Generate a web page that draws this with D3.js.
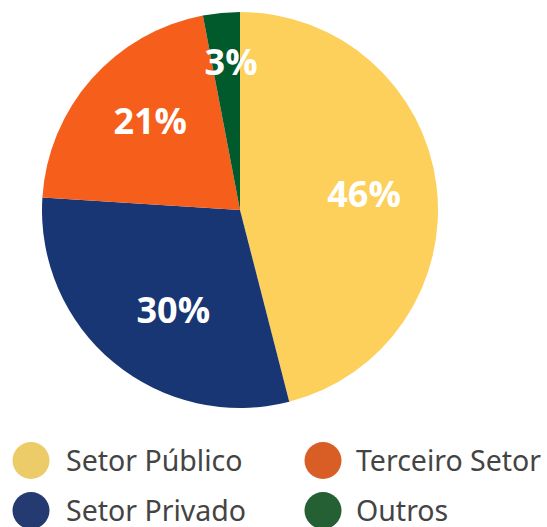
<!DOCTYPE html>
<html>
<head>
<meta charset="utf-8">
<script src="https://cdn.jsdelivr.net/npm/d3@7"></script>
<style>
  body { margin: 0; background: #fff; }
  svg { display: block; }
</style>
</head>
<body>
<svg id="chart"></svg>
<script>
// chart data
const categories = ["Setor Público", "Setor Privado", "Terceiro Setor", "Outros"];
const values = [46, 30, 21, 3];
const sliceColours = ["#FDD05B", "#183673", "#F65E1B", "#005A2B"];
const legendColours = ["#ECCC68", "#243A70", "#D95E26", "#246034"];
// legend is laid out in two columns: Público / Terceiro, Privado / Outros
const legendOrder = [0, 2, 1, 3];

const width = 547, height = 527;
const cx = 240, cy = 210, radius = 198;

// small hand tweaks so the percent labels sit where the original put them
const labelNudge = [[0, 0], [13, 4], [4, -6], [5, -1]];

const svg = d3.select("#chart")
  .attr("width", width)
  .attr("height", height);

const data = categories.map((c, i) => ({ name: c, value: values[i], colour: sliceColours[i], legend: legendColours[i], nudge: labelNudge[i] }));

const pie = d3.pie()
  .value(d => d.value)
  .sort(null);

const arc = d3.arc()
  .innerRadius(0)
  .outerRadius(radius);

const arcs = pie(data);

const g = svg.append("g")
  .attr("transform", `translate(${cx},${cy})`);

g.selectAll(".slice")
  .data(arcs)
  .join("path")
  .attr("class", "slice")
  .attr("d", arc)
  .attr("fill", d => d.data.colour);

// labels sit about 63% out; the tiny slice gets pushed out further
const labelPos = d => {
  const r = d.data.value < 5 ? 148 : 125;
  const [x, y] = d3.arc().innerRadius(r).outerRadius(r).centroid(d);
  return [x + d.data.nudge[0], y + d.data.nudge[1]];
};

g.selectAll(".label")
  .data(arcs)
  .join("text")
  .attr("class", "label")
  .attr("transform", d => `translate(${labelPos(d)})`)
  .attr("text-anchor", "middle")
  .attr("dy", "0.36em")
  .attr("font-family", "'Open Sans', sans-serif")
  .attr("font-weight", 700)
  .attr("font-size", 36)
  .attr("fill", "#fff")
  .text(d => d.data.value + "%");

// legend
const legendX = d3.scaleOrdinal().domain([0, 1]).range([31, 323]);
const legendY = d3.scaleOrdinal().domain([0, 1]).range([460.5, 510.5]);

const legend = svg.selectAll(".legend")
  .data(legendOrder.map(i => data[i]))
  .join("g")
  .attr("class", "legend")
  .attr("transform", (d, i) => `translate(${legendX(i % 2)},${legendY(Math.floor(i / 2))})`);

legend.append("circle")
  .attr("r", 18.5)
  .attr("fill", d => d.legend);

legend.append("text")
  .attr("x", (d, i) => i % 2 ? 33 : 35)
  .attr("y", 10.5)
  .attr("font-family", "'Noto Sans', sans-serif")
  .attr("font-size", 28.5)
  .attr("fill", "#444")
  .text(d => d.name);
</script>
</body>
</html>
